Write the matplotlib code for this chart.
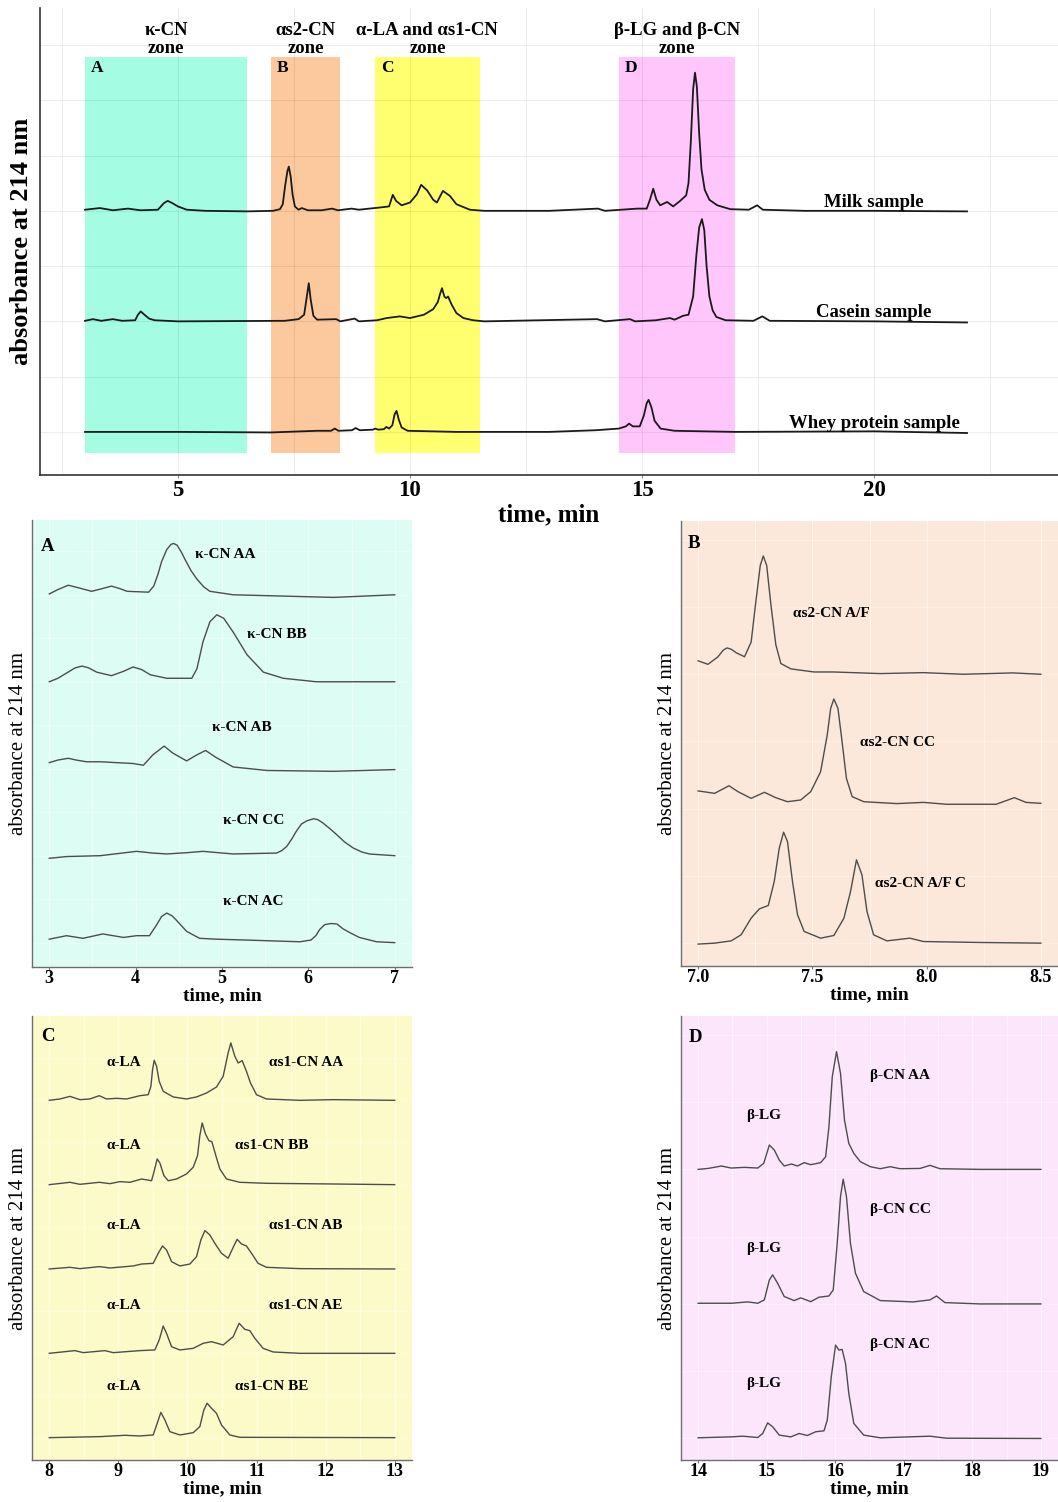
import numpy as np
import matplotlib
matplotlib.use("Agg")
import matplotlib.pyplot as plt
from matplotlib.patches import Rectangle

plt.rcParams['font.family'] = ['Liberation Serif', 'DejaVu Serif']

# ---------------- overview chromatograms (time, min / absorbance above baseline) ----------------
milk_t = [3.0, 3.32, 3.6, 3.92, 4.2, 4.57, 4.7, 4.78, 4.88, 5.0, 5.19, 5.6, 6.5, 7.05, 7.2,
          7.26, 7.31, 7.36, 7.39, 7.43, 7.47, 7.52, 7.6, 7.67, 7.8, 8.1, 8.32, 8.45, 8.74, 8.9,
          9.35, 9.55, 9.63, 9.7, 9.82, 10.0, 10.15, 10.24, 10.37, 10.5, 10.58, 10.71, 10.86, 11.0,
          11.29, 11.6, 13.0, 14.05, 14.2, 14.9, 15.1, 15.17, 15.24, 15.31, 15.39, 15.54, 15.67,
          15.82, 15.95, 16.0, 16.05, 16.1, 16.14, 16.18, 16.23, 16.28, 16.35, 16.45, 16.62, 16.9,
          17.3, 17.48, 17.6, 18.5, 20.0, 22.0]
milk_a = [0.02, 0.05, 0.01, 0.04, 0.01, 0.02, 0.14, 0.18, 0.14, 0.08, 0.02, 0.0, -0.01, 0.0, 0.03,
          0.12, 0.45, 0.72, 0.80, 0.62, 0.30, 0.08, 0.02, 0.05, 0.01, 0.01, 0.04, 0.01, 0.04, 0.02,
          0.06, 0.08, 0.29, 0.18, 0.10, 0.15, 0.30, 0.47, 0.37, 0.20, 0.15, 0.36, 0.27, 0.12,
          0.02, 0.0, 0.0, 0.04, 0.0, 0.04, 0.04, 0.20, 0.40, 0.20, 0.10, 0.16, 0.08,
          0.18, 0.28, 0.50, 1.25, 2.20, 2.50, 2.25, 1.40, 0.75, 0.38, 0.20, 0.10, 0.03,
          0.02, 0.10, 0.02, 0.0, 0.0, -0.01]

casein_t = [3.0, 3.17, 3.35, 3.6, 3.8, 4.08, 4.14, 4.2, 4.28, 4.38, 4.5, 5.0, 7.3, 7.6, 7.72,
            7.77, 7.82, 7.86, 7.92, 8.0, 8.41, 8.5, 8.81, 8.9, 9.29, 9.5, 9.78, 10.0, 10.3, 10.5,
            10.6, 10.65, 10.69, 10.74, 10.78, 10.82, 10.9, 11.0, 11.15, 11.36, 11.6, 14.03, 14.2,
            14.74, 14.85, 15.3, 15.6, 15.7, 15.88, 16.0, 16.1, 16.17, 16.23, 16.29, 16.34, 16.39,
            16.45, 16.52, 16.6, 16.8, 17.4, 17.59, 17.75, 20.0, 22.0]
casein_a = [0.01, 0.04, 0.01, 0.04, 0.01, 0.02, 0.12, 0.18, 0.12, 0.05, 0.02, 0.0, 0.01, 0.04, 0.12,
            0.4, 0.69, 0.4, 0.1, 0.03, 0.04, 0.0, 0.05, 0.0, 0.02, 0.06, 0.09, 0.06, 0.12, 0.22,
            0.35, 0.5, 0.60, 0.45, 0.42, 0.45, 0.3, 0.15, 0.06, 0.02, 0.0, 0.04, 0.0,
            0.04, 0.0, 0.02, 0.06, 0.03, 0.10, 0.12, 0.45, 1.2, 1.7, 1.85, 1.65, 1.0,
            0.45, 0.2, 0.08, 0.02, 0.01, 0.09, 0.01, 0.0, -0.02]

whey_t = [3.0, 5.0, 7.0, 8.0, 8.3, 8.38, 8.46, 8.75, 8.83, 8.92, 9.2, 9.25, 9.32, 9.44, 9.49,
          9.55, 9.62, 9.67, 9.71, 9.76, 9.82, 9.95, 11.0, 13.0, 14.0, 14.5, 14.65, 14.72, 14.8,
          14.95, 15.04, 15.1, 15.14, 15.2, 15.27, 15.4, 15.7, 17.0, 20.0, 22.0]
whey_a = [0.0, 0.0, -0.01, 0.02, 0.02, 0.06, 0.02, 0.03, 0.07, 0.03, 0.04, 0.06, 0.04, 0.05, 0.09,
          0.06, 0.12, 0.32, 0.38, 0.22, 0.08, 0.02, 0.0, 0.0, 0.03, 0.06, 0.1, 0.15, 0.1,
          0.1, 0.3, 0.52, 0.58, 0.45, 0.2, 0.06, 0.02, 0.0, 0.01, -0.02]

sample_names = ["Milk sample", "Casein sample", "Whey protein sample"]

zone_names = ["κ-CN\nzone", "αs2-CN\nzone", "α-LA and αs1-CN\nzone", "β-LG and β-CN\nzone"]
zone_letters = ["A", "B", "C", "D"]
zone_start = [3.0, 7.0, 9.25, 14.5]
zone_end = [6.5, 8.5, 11.5, 17.0]

# ---------------- zone A: kappa-casein ----------------
kAA_t = [3.0, 3.1, 3.22, 3.34, 3.49, 3.61, 3.72, 3.82, 3.9, 4.15, 4.21, 4.26, 4.30, 4.36, 4.41,
         4.44, 4.48, 4.53, 4.57, 4.64, 4.71, 4.79, 4.86, 5.13, 5.52, 6.29, 7.0]
kAA_a = [0.01, 0.06, 0.11, 0.08, 0.04, 0.07, 0.10, 0.07, 0.04, 0.03, 0.10, 0.24, 0.38, 0.52, 0.58,
         0.59, 0.57, 0.49, 0.41, 0.28, 0.18, 0.09, 0.04, 0.0, -0.01, -0.03, 0.0]
kBB_t = [3.0, 3.1, 3.2, 3.3, 3.38, 3.455, 3.55, 3.72, 3.86, 3.97, 4.07, 4.17, 4.36, 4.65, 4.71,
         4.78, 4.86, 4.94, 5.02, 5.13, 5.29, 5.48, 5.71, 6.09, 7.0]
kBB_a = [0.0, 0.04, 0.10, 0.16, 0.18, 0.16, 0.11, 0.07, 0.12, 0.17, 0.14, 0.08, 0.04, 0.04, 0.15,
         0.46, 0.69, 0.77, 0.73, 0.57, 0.31, 0.11, 0.04, 0.0, 0.0]
kAB_t = [3.0, 3.1, 3.22, 3.31, 3.43, 3.59, 3.97, 4.09, 4.2, 4.33, 4.43, 4.59, 4.71, 4.81, 4.93,
         5.13, 5.52, 6.29, 7.0]
kAB_a = [0.07, 0.10, 0.12, 0.10, 0.08, 0.08, 0.06, 0.04, 0.16, 0.26, 0.18, 0.09, 0.16, 0.21, 0.13,
         0.02, -0.02, -0.03, -0.01]
kCC_t = [3.0, 3.2, 3.59, 3.8, 4.01, 4.2, 4.36, 4.6, 4.78, 4.95, 5.13, 5.63, 5.69, 5.75, 5.81,
         5.86, 5.92, 5.98, 6.06, 6.11, 6.17, 6.25, 6.33, 6.42, 6.52, 6.62, 6.71, 7.0]
kCC_a = [-0.03, -0.01, 0.0, 0.025, 0.05, 0.03, 0.02, 0.035, 0.05, 0.035, 0.02, 0.03, 0.057, 0.107,
         0.195, 0.28, 0.364, 0.40, 0.425, 0.414, 0.375, 0.31, 0.24, 0.157, 0.088, 0.042, 0.019, 0.0]
kAC_t = [3.0, 3.2, 3.39, 3.62, 3.86, 4.01, 4.16, 4.24, 4.30, 4.36, 4.42, 4.47, 4.59, 4.74, 4.93,
         5.28, 5.9, 6.03, 6.09, 6.13, 6.19, 6.26, 6.33, 6.4, 6.49, 6.59, 6.79, 7.0]
kAC_a = [0.04, 0.08, 0.05, 0.10, 0.06, 0.08, 0.08, 0.20, 0.30, 0.34, 0.31, 0.26, 0.13, 0.05, 0.04,
         0.03, 0.01, 0.03, 0.084, 0.15, 0.207, 0.22, 0.215, 0.16, 0.11, 0.06, 0.01, 0.0]
k_labels = ["κ-CN AA", "κ-CN BB", "κ-CN AB", "κ-CN CC", "κ-CN AC"]

# ---------------- zone B: alpha-s2-casein ----------------
asAF_t = [7.0, 7.043, 7.087, 7.109, 7.126, 7.145, 7.167, 7.203, 7.232, 7.254, 7.272, 7.285, 7.30,
          7.319, 7.34, 7.362, 7.406, 7.507, 7.594, 7.797, 7.986, 8.16, 8.377, 8.5]
asAF_a = [0.10, 0.074, 0.13, 0.178, 0.196, 0.186, 0.16, 0.13, 0.24, 0.56, 0.81, 0.88, 0.81,
          0.51, 0.22, 0.08, 0.04, 0.017, 0.017, 0.005, 0.012, 0.0, 0.01, 0.0]
asCC_t = [7.0, 7.022, 7.072, 7.135, 7.174, 7.232, 7.29, 7.34, 7.391, 7.449, 7.493, 7.536, 7.565,
          7.58, 7.594, 7.612, 7.63, 7.649, 7.674, 7.725, 7.87, 7.986, 8.087, 8.304, 8.384, 8.435, 8.5]
asCC_a = [0.092, 0.087, 0.074, 0.131, 0.087, 0.037, 0.082, 0.042, 0.012, 0.025, 0.087, 0.235, 0.508,
          0.706, 0.776, 0.706, 0.458, 0.186, 0.05, 0.012, -0.002, 0.007, -0.007, -0.007, 0.042, 0.007, 0.0]
asAFC_t = [7.0, 7.072, 7.145, 7.188, 7.232, 7.268, 7.307, 7.333, 7.355, 7.374, 7.391, 7.413, 7.435,
           7.464, 7.536, 7.594, 7.638, 7.667, 7.693, 7.717, 7.739, 7.768, 7.826, 7.927, 7.986, 8.232, 8.5]
asAFC_a = [-0.007, 0.0, 0.017, 0.062, 0.186, 0.255, 0.28, 0.458, 0.706, 0.825, 0.756, 0.458, 0.211,
           0.087, 0.037, 0.057, 0.186, 0.384, 0.62, 0.508, 0.235, 0.062, 0.017, 0.037, 0.012, 0.005, 0.0]
as2_labels = ["αs2-CN A/F", "αs2-CN CC", "αs2-CN A/F C"]

# ---------------- zone C: alpha-lactalbumin and alpha-s1-casein ----------------
aAA_t = [8.0, 8.154, 8.299, 8.444, 8.588, 8.723, 8.829, 8.974, 9.119, 9.311, 9.432, 9.471, 9.495,
         9.519, 9.553, 9.591, 9.649, 9.794, 9.986, 10.131, 10.276, 10.42, 10.517, 10.589, 10.628,
         10.686, 10.734, 10.792, 10.854, 10.912, 10.999, 11.144, 11.626, 12.108, 13.0]
aAA_a = [0.0, 0.016, 0.047, 0.008, 0.016, 0.055, 0.016, 0.024, 0.016, 0.055, 0.067, 0.166, 0.364,
         0.475, 0.404, 0.226, 0.107, 0.04, 0.016, 0.04, 0.087, 0.158, 0.285, 0.562, 0.681,
         0.522, 0.443, 0.471, 0.344, 0.206, 0.067, 0.016, 0.0, 0.008, 0.0]
aBB_t = [8.0, 8.299, 8.444, 8.723, 8.878, 9.022, 9.167, 9.336, 9.48, 9.514, 9.562, 9.601, 9.659,
         9.721, 9.842, 9.986, 10.083, 10.146, 10.179, 10.213, 10.261, 10.31, 10.353, 10.411, 10.469,
         10.565, 10.758, 11.144, 12.108, 13.0]
aBB_a = [0.0, 0.028, 0.004, 0.028, 0.012, 0.036, 0.028, 0.067, 0.047, 0.146, 0.305, 0.257, 0.107,
         0.047, 0.067, 0.127, 0.206, 0.344, 0.582, 0.732, 0.601, 0.522, 0.51, 0.344, 0.186,
         0.067, 0.028, 0.016, 0.008, 0.0]
aAB_t = [8.0, 8.299, 8.444, 8.723, 8.878, 9.215, 9.336, 9.504, 9.577, 9.639, 9.697, 9.77, 9.89,
         10.035, 10.131, 10.194, 10.252, 10.324, 10.396, 10.493, 10.589, 10.662, 10.719, 10.782,
         10.854, 10.927, 11.023, 11.144, 11.626, 13.0]
aAB_a = [0.0, 0.02, 0.004, 0.028, 0.012, 0.036, 0.059, 0.067, 0.186, 0.273, 0.226, 0.087, 0.036,
         0.059, 0.146, 0.344, 0.455, 0.404, 0.305, 0.186, 0.127, 0.257, 0.352, 0.297,
         0.273, 0.186, 0.067, 0.02, 0.004, 0.0]
aAE_t = [8.0, 8.371, 8.492, 8.805, 8.926, 9.119, 9.311, 9.528, 9.591, 9.649, 9.697, 9.77, 9.89,
         10.083, 10.228, 10.348, 10.517, 10.662, 10.748, 10.83, 10.903, 10.975, 11.095, 11.24,
         11.626, 13.0]
aAE_a = [0.0, 0.032, 0.008, 0.032, 0.008, 0.02, 0.032, 0.04, 0.158, 0.324, 0.237, 0.079, 0.04,
         0.059, 0.119, 0.138, 0.099, 0.198, 0.356, 0.285, 0.269, 0.178, 0.059, 0.016, 0.0, 0.0]
aBE_t = [8.0, 8.733, 9.095, 9.311, 9.504, 9.562, 9.615, 9.673, 9.745, 9.89, 10.083, 10.179, 10.237,
         10.285, 10.348, 10.42, 10.493, 10.613, 10.758, 13.0]
aBE_a = [0.0, 0.012, 0.028, 0.02, 0.032, 0.17, 0.30, 0.21, 0.071, 0.032, 0.059, 0.13, 0.328,
         0.408, 0.348, 0.289, 0.15, 0.032, 0.004, 0.0]
as1_labels = ["αs1-CN AA", "αs1-CN BB", "αs1-CN AB", "αs1-CN AE", "αs1-CN BE"]

# ---------------- zone D: beta-lactoglobulin and beta-casein ----------------
bAA_t = [14.0, 14.145, 14.338, 14.483, 14.676, 14.87, 14.957, 15.039, 15.111, 15.184, 15.256,
         15.362, 15.449, 15.546, 15.643, 15.787, 15.86, 15.908, 15.957, 16.019, 16.077, 16.135,
         16.198, 16.271, 16.367, 16.512, 16.657, 16.802, 16.947, 17.237, 17.382, 17.527, 18.106, 19.0]
bAA_a = [0.0, 0.007, 0.025, 0.01, 0.015, 0.01, 0.045, 0.181, 0.144, 0.069, 0.025,
         0.04, 0.025, 0.05, 0.035, 0.05, 0.094, 0.317, 0.689, 0.875, 0.714, 0.367,
         0.193, 0.119, 0.057, 0.02, 0.005, 0.02, 0.005, 0.007, 0.03, 0.005, 0.0, 0.0]
bCC_t = [14.0, 14.483, 14.725, 14.87, 14.966, 15.039, 15.087, 15.159, 15.256, 15.401, 15.498,
         15.643, 15.763, 15.908, 15.971, 16.029, 16.077, 16.116, 16.164, 16.222, 16.295, 16.415,
         16.657, 17.14, 17.382, 17.478, 17.599, 18.106, 19.0]
bCC_a = [0.005, 0.005, 0.015, 0.005, 0.03, 0.178, 0.216, 0.154, 0.055, 0.025, 0.045,
         0.017, 0.05, 0.059, 0.104, 0.451, 0.798, 0.927, 0.798, 0.451, 0.228, 0.092,
         0.025, 0.015, 0.03, 0.059, 0.01, 0.0, 0.0]
bAC_t = [14.0, 14.483, 14.652, 14.87, 14.942, 15.014, 15.087, 15.184, 15.353, 15.473, 15.594,
         15.715, 15.836, 15.884, 15.942, 16.005, 16.053, 16.101, 16.15, 16.198, 16.271, 16.415,
         16.657, 17.382, 17.623, 19.0]
bAC_a = [0.005, 0.012, 0.017, 0.007, 0.037, 0.116, 0.087, 0.025, 0.012, 0.037, 0.022,
         0.05, 0.057, 0.136, 0.458, 0.694, 0.657, 0.662, 0.558, 0.335, 0.112, 0.025,
         0.005, 0.017, 0.002, 0.0]
bcn_labels = ["β-CN AA", "β-CN CC", "β-CN AC"]

W, H = 1058, 1502


def rect(left, top, right, bottom):
    # pixel box -> figure fraction
    return [left / W, 1 - bottom / H, (right - left) / W, (bottom - top) / H]


fig = plt.figure(figsize=(W / 100, H / 100), dpi=100)

# ================= overview panel =================
ax = fig.add_axes(rect(40, 8, 1058, 475))
ax.set_xlim(2.03, 23.96)
ax.set_ylim(-0.78, 7.67)

zone_colors = ['#a4fce2', '#fcc99f', '#ffff70', '#ffc6fc']
for s, e, c in zip(zone_start, zone_end, zone_colors):
    ax.add_patch(Rectangle((s, -0.38), e - s, 7.16, facecolor=c, edgecolor='none', zorder=1))
for gx in np.arange(2.5, 24, 2.5):
    ax.axvline(gx, color='black', alpha=0.07, lw=0.8, zorder=1.5)
for gy in range(0, 8):
    ax.axhline(gy, color='black', alpha=0.07, lw=0.8, zorder=1.5)

overview = [(milk_t, milk_a, 4.0), (casein_t, casein_a, 2.0), (whey_t, whey_a, 0.0)]
for (t, a, off), name in zip(overview, sample_names):
    ax.plot(t, np.array(a) + off, color='#1a1a1a', lw=1.3, zorder=3)
    ax.text(20.0, off + 0.07, name, ha='center', va='baseline', fontsize=13.5,
            fontweight='bold', zorder=4)

for s, e, name, letter in zip(zone_start, zone_end, zone_names, zone_letters):
    ax.text((s + e) / 2, 6.79, name, ha='center', va='bottom', fontsize=13.5,
            fontweight='bold', linespacing=1.05)
    ax.text(s + 0.12, 6.58, letter, ha='left', va='center', fontsize=12.5, fontweight='bold')

ax.set_xticks([5, 10, 15, 20])
ax.set_yticks([])
ax.tick_params(axis='x', length=2.5, color='#888888', pad=1.0, labelsize=16.5)
for lbl in ax.get_xticklabels():
    lbl.set_fontweight('bold')
for side in ['top', 'right']:
    ax.spines[side].set_visible(False)
for side in ['left', 'bottom']:
    ax.spines[side].set_color('#333333')
    ax.spines[side].set_linewidth(1.2)
ax.text(0.5, -40 / 467, 'time, min', transform=ax.transAxes, ha='center', va='center',
        fontsize=18, fontweight='bold')
ax.text(-18 / 1018, 0.5, 'absorbance at 214 nm', transform=ax.transAxes, rotation=90,
        ha='center', va='center', fontsize=19, fontweight='bold')


# ================= zoomed panels =================
def zoom_panel(box, xlim, ylim, xticks, xticklabels, bg, step, traces, offsets, letter, letter_xy):
    a = fig.add_axes(rect(*box))
    a.set_facecolor(bg)
    a.set_xlim(*xlim)
    a.set_ylim(*ylim)
    for gx in np.arange(xticks[0], xticks[-1] + 1e-6, step):
        a.axvline(gx, color='white', alpha=0.55, lw=0.7, zorder=0.5)
    for gy in np.arange(0, ylim[1], 0.5):
        a.axhline(gy, color='white', alpha=0.35, lw=0.7, zorder=0.5)
    for (t, y), off in zip(traces, offsets):
        a.plot(t, np.array(y) + off, color='#4d4d4d', lw=1.0, zorder=3)
    a.set_xticks(xticks)
    a.set_xticklabels(xticklabels)
    a.set_yticks([])
    a.tick_params(axis='x', length=2, color='#777777', pad=0.5, labelsize=13)
    for lbl in a.get_xticklabels():
        lbl.set_fontweight('bold')
    for side in ['top', 'right']:
        a.spines[side].set_visible(False)
    for side in ['left', 'bottom']:
        a.spines[side].set_color('#6e6e6e')
        a.spines[side].set_linewidth(1.0)
    a.text(0.5, -29 / (box[3] - box[1]), 'time, min', transform=a.transAxes, ha='center',
           va='center', fontsize=14, fontweight='bold')
    a.text(-13 / (box[2] - box[0]), 0.5, 'absorbance at 214 nm', transform=a.transAxes,
           rotation=90, ha='center', va='center', fontsize=15)
    a.text(letter_xy[0], letter_xy[1], letter, ha='left', va='center', fontsize=13.5,
           fontweight='bold')
    return a


# panel A
axA = zoom_panel((32, 520, 412, 967), (2.8, 7.2), (-0.28, 4.86), [3, 4, 5, 6, 7],
                 ['3', '4', '5', '6', '7'], '#ddfcf3', 0.5,
                 [(kAA_t, kAA_a), (kBB_t, kBB_a), (kAB_t, kAB_a), (kCC_t, kCC_a), (kAC_t, kAC_a)],
                 [4, 3, 2, 1, 0], 'A', (2.9, 4.56))
for txt, x, y in zip(k_labels, [4.69, 5.29, 4.88, 5.01, 5.01], [4.46, 3.54, 2.47, 1.41, 0.47]):
    axA.text(x, y, txt, ha='left', va='center', fontsize=11, fontweight='bold')

# panel B
axB = zoom_panel((681, 521, 1058, 966), (6.925, 8.575), (-0.17, 3.14), [7.0, 7.5, 8.0, 8.5],
                 ['7.0', '7.5', '8.0', '8.5'], '#fce8da', 0.25,
                 [(asAF_t, asAF_a), (asCC_t, asCC_a), (asAFC_t, asAFC_a)],
                 [2.0, 1.04, 0.0], 'B', (6.955, 2.97))
for txt, x, y in zip(as2_labels, [7.413, 7.709, 7.774], [2.45, 1.49, 0.446]):
    axB.text(x, y, txt, ha='left', va='center', fontsize=11, fontweight='bold')

# panel C
axC = zoom_panel((32, 1016, 412, 1460), (7.75, 13.25), (-0.265, 5.0), [8, 9, 10, 11, 12, 13],
                 ['8', '9', '10', '11', '12', '13'], '#fcfac8', 0.5,
                 [(aAA_t, aAA_a), (aBB_t, aBB_a), (aAB_t, aAB_a), (aAE_t, aAE_a), (aBE_t, aBE_a)],
                 [4, 3, 2, 1, 0], 'C', (7.88, 4.76))
for txt, x, y in zip(as1_labels, [11.18, 10.69, 11.18, 11.18, 10.69],
                     [4.45, 3.47, 2.52, 1.57, 0.605]):
    axC.text(8.83, y, 'α-LA', ha='left', va='center', fontsize=11, fontweight='bold')
    axC.text(x, y, txt, ha='left', va='center', fontsize=11, fontweight='bold')

# panel D
axD = zoom_panel((681, 1016, 1058, 1460), (13.75, 19.25), (-0.16, 3.14), [14, 15, 16, 17, 18, 19],
                 ['14', '15', '16', '17', '18', '19'], '#fce6fc', 0.5,
                 [(bAA_t, bAA_a), (bCC_t, bCC_a), (bAC_t, bAC_a)],
                 [2, 1, 0], 'D', (13.86, 2.98))
for txt, y, ylg in zip(bcn_labels, [2.70, 1.70, 0.70], [2.40, 1.41, 0.41]):
    axD.text(16.51, y, txt, ha='left', va='center', fontsize=11, fontweight='bold')
    axD.text(14.70, ylg, 'β-LG', ha='left', va='center', fontsize=11, fontweight='bold')

fig.savefig('out.png', dpi=100)
